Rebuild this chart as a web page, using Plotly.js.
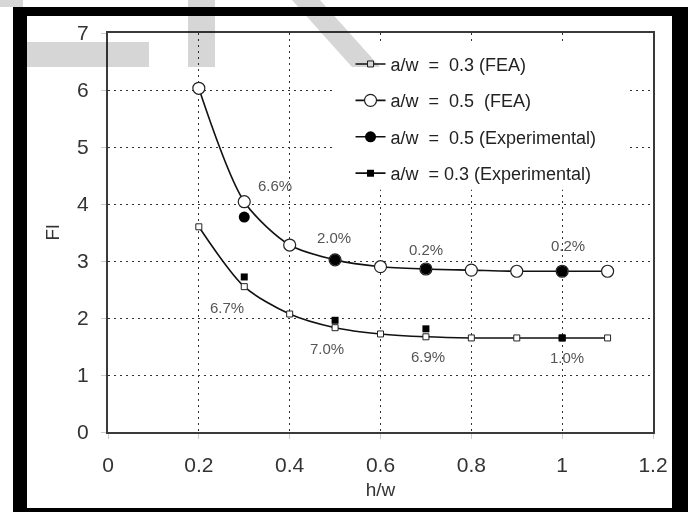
<!DOCTYPE html>
<html>
<head>
<meta charset="utf-8">
<script src="https://cdn.plot.ly/plotly-3.0.1.min.js"></script>
<style>
  html, body { margin: 0; padding: 0; background: #fff; width: 688px; height: 512px; overflow: hidden; }
  #frame { position: absolute; left: 13px; top: 7px; width: 675px; height: 505px; background: #000; }
  #plot { position: absolute; left: 27px; top: 16px; width: 645px; height: 492px; background: #fff; }
  .wm { position: absolute; background: #d6d6d6; mix-blend-mode: multiply; pointer-events: none; }
</style>
</head>
<body>
<div id="frame"></div>
<div id="plot"></div>
<div class="wm" style="left:0px;top:0px;width:23px;height:7px;"></div>
<div class="wm" style="left:27px;top:42px;width:122px;height:25px;"></div>
<div class="wm" style="left:188px;top:0px;width:27px;height:67px;"></div>
<div class="wm" style="left:292px;top:0px;width:90px;height:67px;clip-path:polygon(0px 0px,28px 0px,88px 67px,60px 67px);"></div>
<script>
// ---- data ----
const hwFEA = [0.2, 0.3, 0.4, 0.5, 0.6, 0.7, 0.8, 0.9, 1.0, 1.1];
const fea03 = [3.60, 2.55, 2.07, 1.83, 1.72, 1.67, 1.65, 1.65, 1.65, 1.65];
const fea05 = [6.03, 4.04, 3.28, 3.02, 2.90, 2.86, 2.84, 2.82, 2.82, 2.82];
const hwExp = [0.3, 0.5, 0.7, 1.0];
const exp05 = [3.77, 3.02, 2.86, 2.82];
const exp03 = [2.72, 1.96, 1.81, 1.65];
const errLabels = ["6.6%", "2.0%", "0.2%", "0.2%", "6.7%", "7.0%", "6.9%", "1.0%"];
const errX = [0.368, 0.498, 0.70, 1.013, 0.262, 0.482, 0.705, 1.01];
const errY = [4.33, 3.42, 3.21, 3.28, 2.19, 1.47, 1.32, 1.30];
const seriesNames = ["a/w  =  0.3 (FEA)", "a/w  =  0.5  (FEA)", "a/w  =  0.5 (Experimental)", "a/w  = 0.3 (Experimental)"];

const FONT = 'Liberation Sans, Arial, sans-serif';
const lineStyle = { color: '#111', width: 1.6, shape: 'spline', smoothing: 0.8 };

const traces = [
  { x: hwFEA, y: fea03, mode: 'lines+markers', name: seriesNames[0], legendgroup: 'g1',
    line: lineStyle, marker: { symbol: 'square', size: 6, color: '#fff', line: { color: '#222', width: 1 } } },
  { x: hwFEA, y: fea05, mode: 'lines+markers', name: seriesNames[1], legendgroup: 'g2',
    line: lineStyle, marker: { symbol: 'circle', size: 12, color: '#fff', line: { color: '#222', width: 1.2 } } },
  { x: hwExp, y: exp05, mode: 'markers', name: seriesNames[2], showlegend: false, legendgroup: 'g3',
    marker: { symbol: 'circle', size: 11, color: '#000' } },
  { x: hwExp, y: exp03, mode: 'markers', name: seriesNames[3], showlegend: false, legendgroup: 'g4',
    marker: { symbol: 'square', size: 7, color: '#000' } },
  // legend entries for the experimental series (Excel-style line + marker)
  { x: [null], y: [null], mode: 'lines+markers', name: seriesNames[2], legendgroup: 'g3',
    line: { color: '#111', width: 1.6 }, marker: { symbol: 'circle', size: 11, color: '#000' } },
  { x: [null], y: [null], mode: 'lines+markers', name: seriesNames[3], legendgroup: 'g4',
    line: { color: '#111', width: 1.6 }, marker: { symbol: 'square', size: 7, color: '#000' } }
];

const annotations = errLabels.map((t, i) => ({
  x: errX[i], y: errY[i], text: t, showarrow: false, xref: 'x', yref: 'y',
  font: { family: FONT, size: 15, color: '#555' }
}));

const layout = {
  width: 645, height: 492,
  margin: { l: 81, r: 19, t: 17, b: 76 },
  paper_bgcolor: '#fff', plot_bgcolor: '#fff',
  font: { family: FONT, color: '#333' },
  showlegend: true,
  legend: {
    x: 0.445, y: 0.968, xanchor: 'left', yanchor: 'top',
    bgcolor: 'rgba(255,255,255,0)', borderwidth: 0,
    font: { size: 18, color: '#222' },
    tracegroupgap: 10, itemwidth: 30, traceorder: 'grouped'
  },
  shapes: [
    { type: 'rect', xref: 'x', yref: 'y', x0: 0.5, x1: 1.145, y0: 4.25, y1: 6.8,
      fillcolor: '#fff', line: { width: 0 }, layer: 'between' }
  ],
  xaxis: {
    range: [0, 1.2], dtick: 0.2, tick0: 0,
    showgrid: true, gridcolor: '#333', griddash: '2px,4px', gridwidth: 1,
    zeroline: false, showline: true, mirror: true, linecolor: '#3a3a3a', linewidth: 2,
    ticks: 'outside', ticklen: 5, tickcolor: '#ccc', ticklabelstandoff: 8,
    tickfont: { size: 21, color: '#333' },
    title: { text: 'h/w', font: { size: 19, color: '#333' }, standoff: 7 }
  },
  yaxis: {
    range: [0, 7], dtick: 1,
    showgrid: true, gridcolor: '#333', griddash: '2px,4px', gridwidth: 1,
    zeroline: false, showline: true, mirror: true, linecolor: '#3a3a3a', linewidth: 2,
    ticks: 'outside', ticklen: 5, tickcolor: '#ccc', ticklabelstandoff: 8,
    tickfont: { size: 21, color: '#333' },
    title: { text: 'Fl', font: { size: 19, color: '#333' }, standoff: 12 }
  },
  annotations: annotations
};

Plotly.newPlot('plot', traces, layout, { displayModeBar: false, staticPlot: true });
</script>
</body>
</html>
